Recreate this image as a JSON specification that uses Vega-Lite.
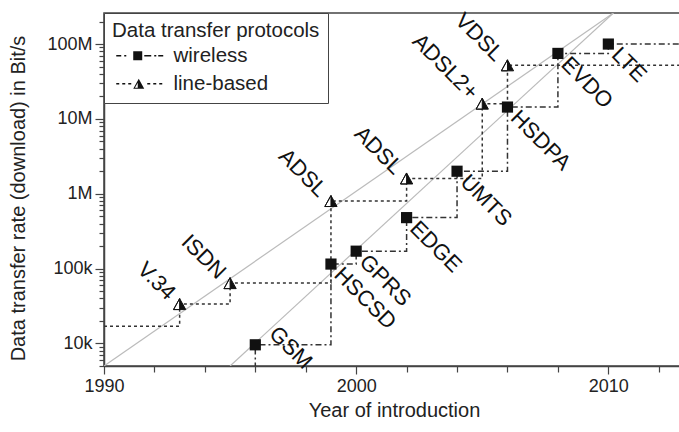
{
  "$schema": "https://vega.github.io/schema/vega-lite/v6.json",
  "width": 580,
  "height": 353,
  "autosize": {"type": "none"},
  "padding": {"left": 104, "top": 13, "right": 0, "bottom": 66},
  "background": "white",
  "config": {
    "font": "Liberation Sans",
    "view": {"stroke": "#444", "strokeWidth": 1.5},
    "axis": {
      "domainColor": "#444", "domainWidth": 1.5,
      "tickColor": "#444", "tickWidth": 1.2,
      "labelFont": "Liberation Sans", "labelFontSize": 18, "labelColor": "#222",
      "titleFont": "Liberation Sans", "titleFontSize": 20, "titleFontWeight": "normal", "titleColor": "#222",
      "grid": false, "labelFlush": false, "labelOverlap": false
    }
  },
  "datasets": {
    "points": [
      {"name": "V.34", "year": 1993, "rate": 33600, "type": "line-based"},
      {"name": "ISDN", "year": 1995, "rate": 64000, "type": "line-based"},
      {"name": "ADSL", "year": 1999, "rate": 800000, "type": "line-based"},
      {"name": "ADSL", "year": 2002, "rate": 1600000, "type": "line-based"},
      {"name": "ADSL2+", "year": 2005, "rate": 16000000, "type": "line-based"},
      {"name": "VDSL", "year": 2006, "rate": 52000000, "type": "line-based"},
      {"name": "GSM", "year": 1996, "rate": 9600, "type": "wireless"},
      {"name": "HSCSD", "year": 1999, "rate": 115000, "type": "wireless"},
      {"name": "GPRS", "year": 2000, "rate": 171000, "type": "wireless"},
      {"name": "EDGE", "year": 2002, "rate": 480000, "type": "wireless"},
      {"name": "UMTS", "year": 2004, "rate": 2000000, "type": "wireless"},
      {"name": "HSDPA", "year": 2006, "rate": 14400000, "type": "wireless"},
      {"name": "EVDO", "year": 2008, "rate": 75000000, "type": "wireless"},
      {"name": "LTE", "year": 2010, "rate": 100000000, "type": "wireless"}
    ],
    "steps": [
      {"year": 1990, "rate": 17000, "protocol": "line-based"},
      {"year": 1993, "rate": 33600, "protocol": "line-based"},
      {"year": 1995, "rate": 64000, "protocol": "line-based"},
      {"year": 1999, "rate": 800000, "protocol": "line-based"},
      {"year": 2002, "rate": 1600000, "protocol": "line-based"},
      {"year": 2005, "rate": 16000000, "protocol": "line-based"},
      {"year": 2006, "rate": 52000000, "protocol": "line-based"},
      {"year": 2014, "rate": 52000000, "protocol": "line-based"},
      {"year": 1996, "rate": 3000, "protocol": "wireless"},
      {"year": 1996, "rate": 9600, "protocol": "wireless"},
      {"year": 1999, "rate": 115000, "protocol": "wireless"},
      {"year": 2000, "rate": 171000, "protocol": "wireless"},
      {"year": 2002, "rate": 480000, "protocol": "wireless"},
      {"year": 2004, "rate": 2000000, "protocol": "wireless"},
      {"year": 2006, "rate": 14400000, "protocol": "wireless"},
      {"year": 2008, "rate": 75000000, "protocol": "wireless"},
      {"year": 2010, "rate": 100000000, "protocol": "wireless"},
      {"year": 2014, "rate": 100000000, "protocol": "wireless"}
    ],
    "trends": [
      {"trend": "A", "year": 1990, "rate": 5000},
      {"trend": "A", "year": 2010.2, "rate": 260000000},
      {"trend": "B", "year": 1995, "rate": 5000},
      {"trend": "B", "year": 2010.2, "rate": 260000000}
    ]
  },
  "layer": [
    {
      "data": {"name": "trends"},
      "mark": {"type": "line", "color": "#bbbbbb", "strokeWidth": 1.2, "clip": true},
      "encoding": {
        "x": {
          "field": "year", "type": "quantitative",
          "scale": {"domain": [1990, 2013], "nice": false, "zero": false},
          "axis": {
            "title": "Year of introduction",
            "values": [1990,1991,1992,1993,1994,1995,1996,1997,1998,1999,2000,2001,2002,2003,2004,2005,2006,2007,2008,2009,2010,2011,2012,2013],
            "format": "d",
            "labelOverlap": false,
            "labelExpr": "datum.value % 5 === 0 ? datum.label : ''",
            "tickSize": {"condition": {"test": "datum.value % 5 === 0", "value": 8}, "value": 6},
            "labelPadding": 3,
            "titlePadding": 5
          }
        },
        "y": {
          "field": "rate", "type": "quantitative",
          "scale": {"type": "log", "domain": [5000, 260000000], "nice": false},
          "axis": {
            "title": "Data transfer rate (download) in Bit/s",
            "values": [5000,6000,7000,8000,9000,10000,20000,30000,40000,50000,60000,70000,80000,90000,100000,200000,300000,400000,500000,600000,700000,800000,900000,1000000,2000000,3000000,4000000,5000000,6000000,7000000,8000000,9000000,10000000,20000000,30000000,40000000,50000000,60000000,70000000,80000000,90000000,100000000,200000000],
            "labelOverlap": false,
            "labelExpr": "indexof([10000,100000,1000000,10000000,100000000], datum.value) >= 0 ? format(datum.value, '~s') : ''",
            "tickSize": {"condition": {"test": "indexof([10000,100000,1000000,10000000,100000000], datum.value) >= 0", "value": 9}, "value": 5},
            "labelPadding": 3,
            "titlePadding": 18,
            "titleY": 185
          }
        },
        "detail": {"field": "trend"}
      }
    },
    {
      "data": {"name": "steps"},
      "transform": [{"filter": "datum.protocol === 'line-based'"}],
      "mark": {"type": "line", "interpolate": "step-after", "color": "#333333", "strokeWidth": 1.5, "strokeDash": [3, 3], "clip": true},
      "encoding": {
        "x": {"field": "year", "type": "quantitative"},
        "y": {"field": "rate", "type": "quantitative"},
        "order": [{"field": "year", "type": "quantitative"}, {"field": "rate", "type": "quantitative"}]
      }
    },
    {
      "data": {"name": "steps"},
      "transform": [{"filter": "datum.protocol === 'wireless'"}],
      "mark": {"type": "line", "interpolate": "step-after", "color": "#333333", "strokeWidth": 1.5, "strokeDash": [6, 3, 2, 3], "clip": true},
      "encoding": {
        "x": {"field": "year", "type": "quantitative"},
        "y": {"field": "rate", "type": "quantitative"},
        "order": [{"field": "year", "type": "quantitative"}, {"field": "rate", "type": "quantitative"}]
      }
    },
    {
      "data": {"name": "points"},
      "transform": [{"filter": "datum.type === 'line-based'"}],
      "mark": {"type": "point", "shape": "M0,-0.9L1,0.9L-1,0.9Z", "filled": true, "fill": "white", "strokeWidth": 0, "size": 150, "opacity": 1},
      "encoding": {
        "x": {"field": "year", "type": "quantitative"},
        "y": {"field": "rate", "type": "quantitative"}
      }
    },
    {
      "data": {"name": "points"},
      "transform": [{"filter": "datum.type === 'line-based'"}],
      "mark": {"type": "point", "shape": "M0,-0.9L1,0.9L-1,0.9Z M0,-0.9L-1,0.9L0,0.9Z", "filled": true, "fill": "#111111", "stroke": "#111111", "strokeWidth": 1, "size": 150, "opacity": 1},
      "encoding": {
        "x": {"field": "year", "type": "quantitative"},
        "y": {"field": "rate", "type": "quantitative"}
      }
    },
    {
      "data": {"name": "points"},
      "transform": [{"filter": "datum.type === 'wireless'"}],
      "mark": {"type": "point", "shape": "square", "filled": true, "color": "#111111", "size": 125, "opacity": 1},
      "encoding": {
        "x": {"field": "year", "type": "quantitative"},
        "y": {"field": "rate", "type": "quantitative"}
      }
    },
    {
      "data": {"name": "points"},
      "mark": {"type": "point", "filled": true, "color": "#111111", "opacity": 0},
      "encoding": {
        "x": {"field": "year", "type": "quantitative"},
        "y": {"field": "rate", "type": "quantitative"},
        "shape": {
          "field": "type", "type": "nominal",
          "scale": {
            "domain": ["wireless", "line-based"],
            "range": [
              "M-1,-0.125H-0.17V0.125H-1Z M0.33,-0.125H0.67V0.125H0.33Z M1.83,-0.75H3.33V0.75H1.83Z M3.67,-0.125H4.83V0.125H3.67Z M5.33,-0.125H5.67V0.125H5.33Z M6,-0.125H6.83V0.125H6Z",
              "M-1,-0.125H-0.5V0.125H-1Z M0,-0.125H0.5V0.125H0Z M1,-0.125H1.5V0.125H1Z M2.75,-0.833L3.667,0.833L1.833,0.833Z M2.583,-0.184L2.115,0.667L2.583,0.667Z M4.167,-0.125H4.667V0.125H4.167Z M5.167,-0.125H5.667V0.125H5.167Z M6.167,-0.125H6.667V0.125H6.167Z"
            ]
          },
          "legend": {
            "title": "Data transfer protocols",
            "orient": "none", "legendX": 0, "legendY": 0,
            "titleFont": "Liberation Sans", "titleFontSize": 20.5, "titleFontWeight": "normal", "titleColor": "#222", "titleLimit": 400,
            "labelFont": "Liberation Sans", "labelFontSize": 20.5, "labelColor": "#222", "labelLimit": 300,
            "strokeColor": "#444", "fillColor": "white", "padding": 8,
            "symbolSize": 144, "symbolOpacity": 1,
            "symbolFillColor": "#111111", "symbolStrokeWidth": 0,
            "rowPadding": 7, "labelOffset": 41, "titlePadding": 4, "cornerRadius": 0
          }
        }
      }
    },
    {
      "data": {"name": "points"},
      "transform": [{"filter": "datum.type === 'wireless' && datum.name !== 'GSM'"}],
      "mark": {"type": "text", "align": "left", "baseline": "middle", "angle": 45, "dx": 10, "fontSize": 22, "font": "Liberation Sans", "color": "#111111"},
      "encoding": {
        "x": {"field": "year", "type": "quantitative"},
        "y": {"field": "rate", "type": "quantitative"},
        "text": {"field": "name"}
      }
    },
    {
      "data": {"name": "points"},
      "transform": [{"filter": "datum.name === 'GSM'"}],
      "mark": {"type": "text", "align": "left", "baseline": "middle", "angle": 45, "dx": 2, "dy": -23, "fontSize": 22, "font": "Liberation Sans", "color": "#111111"},
      "encoding": {
        "x": {"field": "year", "type": "quantitative"},
        "y": {"field": "rate", "type": "quantitative"},
        "text": {"field": "name"}
      }
    },
    {
      "data": {"name": "points"},
      "transform": [{"filter": "datum.type === 'line-based'"}],
      "mark": {"type": "text", "align": "right", "baseline": "middle", "angle": 45, "dx": -11, "fontSize": 22, "font": "Liberation Sans", "color": "#111111"},
      "encoding": {
        "x": {"field": "year", "type": "quantitative"},
        "y": {"field": "rate", "type": "quantitative"},
        "text": {"field": "name"}
      }
    }
  ]
}
